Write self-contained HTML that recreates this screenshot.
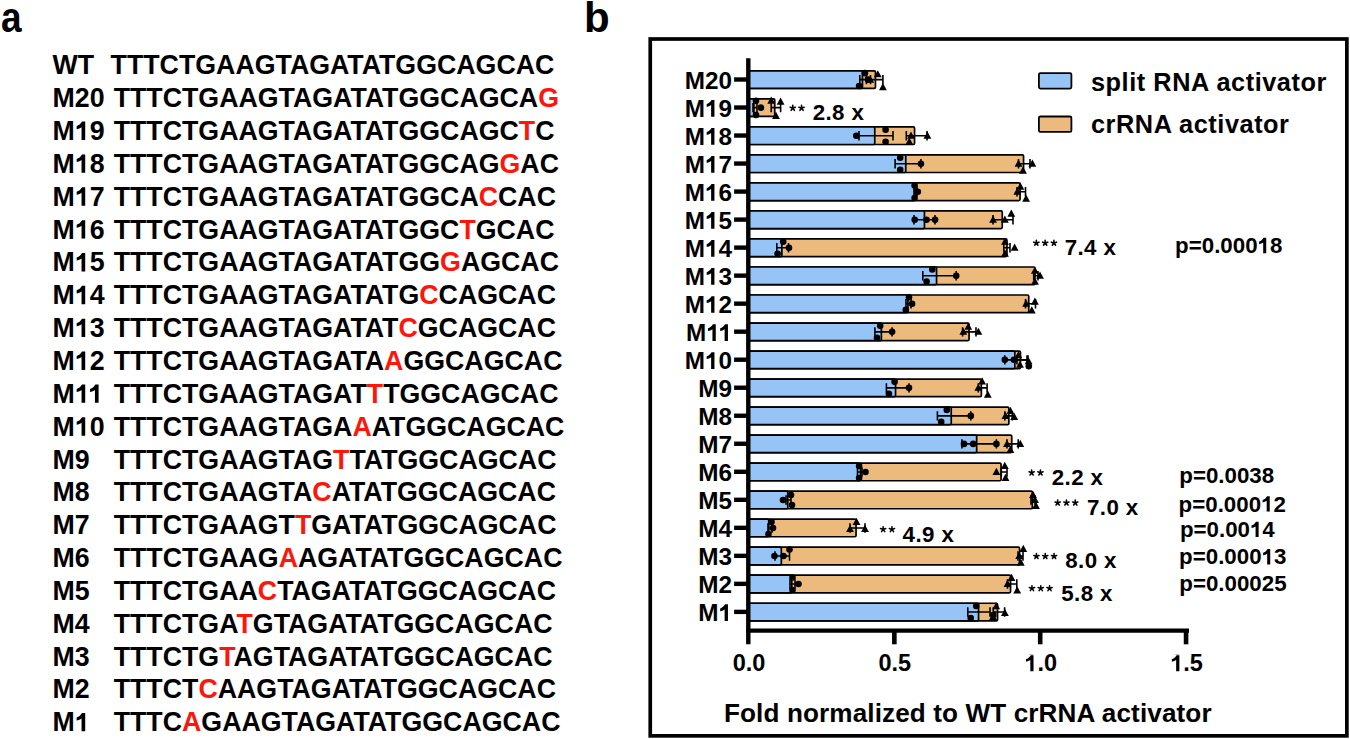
<!DOCTYPE html><html><head><meta charset="utf-8"><style>
html,body{margin:0;padding:0;background:#fff;width:1350px;height:739px;overflow:hidden}
svg{display:block}
text{font-family:"Liberation Sans", sans-serif;font-weight:bold}
</style></head><body>
<svg width="1350" height="739" viewBox="0 0 1350 739">
<rect width="1350" height="739" fill="#fff"/>
<text x="1.32" y="31.5" font-size="43.4" transform="scale(0.853,1)">a</text>
<text x="584" y="31.5" font-size="42">b</text>
<text x="52.5" y="74.30" font-size="26.75">WT</text>
<text x="110.6" y="74.30" font-size="26.75">TTTCTGAAGTAGATATGGCAGCAC</text>
<text x="52.5" y="107.15" font-size="26.75">M20</text>
<text x="113.7" y="107.15" font-size="26.75">TTTCTGAAGTAGATATGGCAGCA<tspan fill="#ff150a">G</tspan></text>
<text x="52.5" y="140.00" font-size="26.75">M19</text>
<text x="113.7" y="140.00" font-size="26.75">TTTCTGAAGTAGATATGGCAGC<tspan fill="#ff150a">T</tspan>C</text>
<text x="52.5" y="172.85" font-size="26.75">M18</text>
<text x="113.7" y="172.85" font-size="26.75">TTTCTGAAGTAGATATGGCAG<tspan fill="#ff150a">G</tspan>AC</text>
<text x="52.5" y="205.70" font-size="26.75">M17</text>
<text x="113.7" y="205.70" font-size="26.75">TTTCTGAAGTAGATATGGCA<tspan fill="#ff150a">C</tspan>CAC</text>
<text x="52.5" y="238.55" font-size="26.75">M16</text>
<text x="113.7" y="238.55" font-size="26.75">TTTCTGAAGTAGATATGGC<tspan fill="#ff150a">T</tspan>GCAC</text>
<text x="52.5" y="271.40" font-size="26.75">M15</text>
<text x="113.7" y="271.40" font-size="26.75">TTTCTGAAGTAGATATGG<tspan fill="#ff150a">G</tspan>AGCAC</text>
<text x="52.5" y="304.25" font-size="26.75">M14</text>
<text x="113.7" y="304.25" font-size="26.75">TTTCTGAAGTAGATATG<tspan fill="#ff150a">C</tspan>CAGCAC</text>
<text x="52.5" y="337.10" font-size="26.75">M13</text>
<text x="113.7" y="337.10" font-size="26.75">TTTCTGAAGTAGATAT<tspan fill="#ff150a">C</tspan>GCAGCAC</text>
<text x="52.5" y="369.95" font-size="26.75">M12</text>
<text x="113.7" y="369.95" font-size="26.75">TTTCTGAAGTAGATA<tspan fill="#ff150a">A</tspan>GGCAGCAC</text>
<text x="52.5" y="402.80" font-size="26.75">M11</text>
<text x="113.7" y="402.80" font-size="26.75">TTTCTGAAGTAGAT<tspan fill="#ff150a">T</tspan>TGGCAGCAC</text>
<text x="52.5" y="435.65" font-size="26.75">M10</text>
<text x="113.7" y="435.65" font-size="26.75">TTTCTGAAGTAGA<tspan fill="#ff150a">A</tspan>ATGGCAGCAC</text>
<text x="52.5" y="468.50" font-size="26.75">M9</text>
<text x="113.7" y="468.50" font-size="26.75">TTTCTGAAGTAG<tspan fill="#ff150a">T</tspan>TATGGCAGCAC</text>
<text x="52.5" y="501.35" font-size="26.75">M8</text>
<text x="113.7" y="501.35" font-size="26.75">TTTCTGAAGTA<tspan fill="#ff150a">C</tspan>ATATGGCAGCAC</text>
<text x="52.5" y="534.20" font-size="26.75">M7</text>
<text x="113.7" y="534.20" font-size="26.75">TTTCTGAAGT<tspan fill="#ff150a">T</tspan>GATATGGCAGCAC</text>
<text x="52.5" y="567.05" font-size="26.75">M6</text>
<text x="113.7" y="567.05" font-size="26.75">TTTCTGAAG<tspan fill="#ff150a">A</tspan>AGATATGGCAGCAC</text>
<text x="52.5" y="599.90" font-size="26.75">M5</text>
<text x="113.7" y="599.90" font-size="26.75">TTTCTGAA<tspan fill="#ff150a">C</tspan>TAGATATGGCAGCAC</text>
<text x="52.5" y="632.75" font-size="26.75">M4</text>
<text x="113.7" y="632.75" font-size="26.75">TTTCTGA<tspan fill="#ff150a">T</tspan>GTAGATATGGCAGCAC</text>
<text x="52.5" y="665.60" font-size="26.75">M3</text>
<text x="113.7" y="665.60" font-size="26.75">TTTCTG<tspan fill="#ff150a">T</tspan>AGTAGATATGGCAGCAC</text>
<text x="52.5" y="698.45" font-size="26.75">M2</text>
<text x="113.7" y="698.45" font-size="26.75">TTTCT<tspan fill="#ff150a">C</tspan>AAGTAGATATGGCAGCAC</text>
<text x="52.5" y="731.30" font-size="26.75">M1</text>
<text x="113.7" y="731.30" font-size="26.75">TTTC<tspan fill="#ff150a">A</tspan>GAAGTAGATATGGCAGCAC</text>
<rect x="650.25" y="39" width="696.6" height="696.85" fill="none" stroke="#000" stroke-width="3.7"/>
<rect x="748.50" y="70.85" width="126.95" height="17.6" rx="1.2" fill="#edba7e" stroke="#000" stroke-width="1.7"/>
<rect x="748.50" y="70.85" width="113.95" height="17.6" rx="1.2" fill="#96c4f7" stroke="#000" stroke-width="1.7"/>
<rect x="748.50" y="98.87" width="26.25" height="17.6" rx="1.2" fill="#edba7e" stroke="#000" stroke-width="1.7"/>
<rect x="748.50" y="98.87" width="5.35" height="17.6" rx="1.2" fill="#96c4f7" stroke="#000" stroke-width="1.7"/>
<rect x="748.50" y="126.89" width="166.05" height="17.6" rx="1.2" fill="#edba7e" stroke="#000" stroke-width="1.7"/>
<rect x="748.50" y="126.89" width="126.25" height="17.6" rx="1.2" fill="#96c4f7" stroke="#000" stroke-width="1.7"/>
<rect x="748.50" y="154.91" width="275.05" height="17.6" rx="1.2" fill="#edba7e" stroke="#000" stroke-width="1.7"/>
<rect x="748.50" y="154.91" width="157.25" height="17.6" rx="1.2" fill="#96c4f7" stroke="#000" stroke-width="1.7"/>
<rect x="748.50" y="182.93" width="271.55" height="17.6" rx="1.2" fill="#edba7e" stroke="#000" stroke-width="1.7"/>
<rect x="748.50" y="182.93" width="166.55" height="17.6" rx="1.2" fill="#96c4f7" stroke="#000" stroke-width="1.7"/>
<rect x="748.50" y="210.95" width="253.75" height="17.6" rx="1.2" fill="#edba7e" stroke="#000" stroke-width="1.7"/>
<rect x="748.50" y="210.95" width="175.95" height="17.6" rx="1.2" fill="#96c4f7" stroke="#000" stroke-width="1.7"/>
<rect x="748.50" y="238.97" width="258.45" height="17.6" rx="1.2" fill="#edba7e" stroke="#000" stroke-width="1.7"/>
<rect x="748.50" y="238.97" width="33.35" height="17.6" rx="1.2" fill="#96c4f7" stroke="#000" stroke-width="1.7"/>
<rect x="748.50" y="266.99" width="286.45" height="17.6" rx="1.2" fill="#edba7e" stroke="#000" stroke-width="1.7"/>
<rect x="748.50" y="266.99" width="188.05" height="17.6" rx="1.2" fill="#96c4f7" stroke="#000" stroke-width="1.7"/>
<rect x="748.50" y="295.01" width="280.25" height="17.6" rx="1.2" fill="#edba7e" stroke="#000" stroke-width="1.7"/>
<rect x="748.50" y="295.01" width="159.45" height="17.6" rx="1.2" fill="#96c4f7" stroke="#000" stroke-width="1.7"/>
<rect x="748.50" y="323.03" width="220.55" height="17.6" rx="1.2" fill="#edba7e" stroke="#000" stroke-width="1.7"/>
<rect x="748.50" y="323.03" width="132.85" height="17.6" rx="1.2" fill="#96c4f7" stroke="#000" stroke-width="1.7"/>
<rect x="748.50" y="351.05" width="271.95" height="17.6" rx="1.2" fill="#edba7e" stroke="#000" stroke-width="1.7"/>
<rect x="748.50" y="351.05" width="266.35" height="17.6" rx="1.2" fill="#96c4f7" stroke="#000" stroke-width="1.7"/>
<rect x="748.50" y="379.07" width="232.85" height="17.6" rx="1.2" fill="#edba7e" stroke="#000" stroke-width="1.7"/>
<rect x="748.50" y="379.07" width="147.05" height="17.6" rx="1.2" fill="#96c4f7" stroke="#000" stroke-width="1.7"/>
<rect x="748.50" y="407.09" width="260.35" height="17.6" rx="1.2" fill="#edba7e" stroke="#000" stroke-width="1.7"/>
<rect x="748.50" y="407.09" width="202.75" height="17.6" rx="1.2" fill="#96c4f7" stroke="#000" stroke-width="1.7"/>
<rect x="748.50" y="435.11" width="263.25" height="17.6" rx="1.2" fill="#edba7e" stroke="#000" stroke-width="1.7"/>
<rect x="748.50" y="435.11" width="228.15" height="17.6" rx="1.2" fill="#96c4f7" stroke="#000" stroke-width="1.7"/>
<rect x="748.50" y="463.13" width="252.55" height="17.6" rx="1.2" fill="#edba7e" stroke="#000" stroke-width="1.7"/>
<rect x="748.50" y="463.13" width="112.05" height="17.6" rx="1.2" fill="#96c4f7" stroke="#000" stroke-width="1.7"/>
<rect x="748.50" y="491.15" width="283.85" height="17.6" rx="1.2" fill="#edba7e" stroke="#000" stroke-width="1.7"/>
<rect x="748.50" y="491.15" width="39.25" height="17.6" rx="1.2" fill="#96c4f7" stroke="#000" stroke-width="1.7"/>
<rect x="748.50" y="519.17" width="107.55" height="17.6" rx="1.2" fill="#edba7e" stroke="#000" stroke-width="1.7"/>
<rect x="748.50" y="519.17" width="20.25" height="17.6" rx="1.2" fill="#96c4f7" stroke="#000" stroke-width="1.7"/>
<rect x="748.50" y="547.19" width="271.05" height="17.6" rx="1.2" fill="#edba7e" stroke="#000" stroke-width="1.7"/>
<rect x="748.50" y="547.19" width="32.85" height="17.6" rx="1.2" fill="#96c4f7" stroke="#000" stroke-width="1.7"/>
<rect x="748.50" y="575.21" width="262.05" height="17.6" rx="1.2" fill="#edba7e" stroke="#000" stroke-width="1.7"/>
<rect x="748.50" y="575.21" width="43.25" height="17.6" rx="1.2" fill="#96c4f7" stroke="#000" stroke-width="1.7"/>
<rect x="748.50" y="603.23" width="249.05" height="17.6" rx="1.2" fill="#edba7e" stroke="#000" stroke-width="1.7"/>
<rect x="748.50" y="603.23" width="230.05" height="17.6" rx="1.2" fill="#96c4f7" stroke="#000" stroke-width="1.7"/>
<path d="M859.80 79.65H866.40M859.80 74.95v9.4M866.40 74.95v9.4" stroke="#000" stroke-width="1.6" fill="none"/>
<circle cx="864.90" cy="73.15" r="3.3"/>
<circle cx="868.00" cy="79.65" r="3.3"/>
<circle cx="859.10" cy="85.95" r="3.3"/>
<path d="M870.50 79.65H882.90M870.50 74.95v9.4M882.90 74.95v9.4" stroke="#000" stroke-width="1.6" fill="none"/>
<path d="M877.80 70.15L881.70 77.35L873.90 77.35Z"/>
<path d="M870.20 75.45L874.10 82.65L866.30 82.65Z"/>
<path d="M882.90 83.05L886.80 90.25L879.00 90.25Z"/>
<path d="M753.00 107.67H757.00M753.00 102.97v9.4M757.00 102.97v9.4" stroke="#000" stroke-width="1.6" fill="none"/>
<circle cx="756.00" cy="100.87" r="3.3"/>
<circle cx="761.00" cy="107.67" r="3.3"/>
<circle cx="756.00" cy="115.07" r="3.3"/>
<path d="M771.20 107.67H780.60M771.20 102.97v9.4M780.60 102.97v9.4" stroke="#000" stroke-width="1.6" fill="none"/>
<path d="M771.20 96.47L775.10 103.67L767.30 103.67Z"/>
<path d="M780.60 97.57L784.50 104.77L776.70 104.77Z"/>
<path d="M776.00 111.77L779.90 118.97L772.10 118.97Z"/>
<path d="M859.00 135.69H893.00M859.00 130.99v9.4M893.00 130.99v9.4" stroke="#000" stroke-width="1.6" fill="none"/>
<circle cx="856.30" cy="135.69" r="3.3"/>
<circle cx="885.60" cy="129.69" r="3.3"/>
<circle cx="885.60" cy="141.69" r="3.3"/>
<path d="M906.30 135.69H927.00M906.30 130.99v9.4M927.00 130.99v9.4" stroke="#000" stroke-width="1.6" fill="none"/>
<path d="M927.40 131.49L931.30 138.69L923.50 138.69Z"/>
<path d="M911.00 131.49L914.90 138.69L907.10 138.69Z"/>
<path d="M909.30 137.49L913.20 144.69L905.40 144.69Z"/>
<path d="M895.10 163.71H920.90M895.10 159.01v9.4M920.90 159.01v9.4" stroke="#000" stroke-width="1.6" fill="none"/>
<circle cx="900.20" cy="157.71" r="3.3"/>
<circle cx="920.90" cy="163.71" r="3.3"/>
<circle cx="900.20" cy="169.71" r="3.3"/>
<path d="M1018.50 163.71H1030.00M1018.50 159.01v9.4M1030.00 159.01v9.4" stroke="#000" stroke-width="1.6" fill="none"/>
<path d="M1018.50 159.51L1022.40 166.71L1014.60 166.71Z"/>
<path d="M1023.00 166.51L1026.90 173.71L1019.10 173.71Z"/>
<path d="M1032.40 159.51L1036.30 166.71L1028.50 166.71Z"/>
<path d="M914.00 191.73H917.00M914.00 187.03v9.4M917.00 187.03v9.4" stroke="#000" stroke-width="1.6" fill="none"/>
<circle cx="914.60" cy="185.43" r="3.3"/>
<circle cx="917.80" cy="191.73" r="3.3"/>
<circle cx="914.60" cy="198.03" r="3.3"/>
<path d="M1017.00 191.73H1025.50M1017.00 187.03v9.4M1025.50 187.03v9.4" stroke="#000" stroke-width="1.6" fill="none"/>
<path d="M1017.30 187.53L1021.20 194.73L1013.40 194.73Z"/>
<path d="M1020.40 182.53L1024.30 189.73L1016.50 189.73Z"/>
<path d="M1026.10 194.53L1030.00 201.73L1022.20 201.73Z"/>
<path d="M914.00 219.75H935.00M914.00 215.05v9.4M935.00 215.05v9.4" stroke="#000" stroke-width="1.6" fill="none"/>
<circle cx="914.70" cy="219.75" r="3.3"/>
<circle cx="926.50" cy="219.75" r="3.3"/>
<circle cx="935.10" cy="219.75" r="3.3"/>
<path d="M993.00 219.75H1013.00M993.00 215.05v9.4M1013.00 215.05v9.4" stroke="#000" stroke-width="1.6" fill="none"/>
<path d="M993.10 215.55L997.00 222.75L989.20 222.75Z"/>
<path d="M1004.90 215.55L1008.80 222.75L1001.00 222.75Z"/>
<path d="M1011.30 209.55L1015.20 216.75L1007.40 216.75Z"/>
<path d="M776.80 247.77H788.50M776.80 243.07v9.4M788.50 243.07v9.4" stroke="#000" stroke-width="1.6" fill="none"/>
<circle cx="783.20" cy="241.77" r="3.3"/>
<circle cx="777.60" cy="253.77" r="3.3"/>
<circle cx="789.00" cy="247.77" r="3.3"/>
<path d="M1003.80 247.77H1010.00M1003.80 243.07v9.4M1010.00 243.07v9.4" stroke="#000" stroke-width="1.6" fill="none"/>
<path d="M1005.00 237.57L1008.90 244.77L1001.10 244.77Z"/>
<path d="M1005.00 249.57L1008.90 256.77L1001.10 256.77Z"/>
<path d="M1014.60 243.57L1018.50 250.77L1010.70 250.77Z"/>
<path d="M922.80 275.79H956.20M922.80 271.09v9.4M956.20 271.09v9.4" stroke="#000" stroke-width="1.6" fill="none"/>
<circle cx="932.30" cy="269.49" r="3.3"/>
<circle cx="926.60" cy="281.49" r="3.3"/>
<circle cx="956.20" cy="275.79" r="3.3"/>
<path d="M1033.70 275.79H1038.00M1033.70 271.09v9.4M1038.00 271.09v9.4" stroke="#000" stroke-width="1.6" fill="none"/>
<path d="M1034.90 266.59L1038.80 273.79L1031.00 273.79Z"/>
<path d="M1035.00 277.59L1038.90 284.79L1031.10 284.79Z"/>
<path d="M1040.00 271.59L1043.90 278.79L1036.10 278.79Z"/>
<path d="M906.00 303.81H911.00M906.00 299.11v9.4M911.00 299.11v9.4" stroke="#000" stroke-width="1.6" fill="none"/>
<circle cx="909.00" cy="297.31" r="3.3"/>
<circle cx="905.80" cy="309.81" r="3.3"/>
<circle cx="912.10" cy="303.81" r="3.3"/>
<path d="M1025.50 303.81H1035.50M1025.50 299.11v9.4M1035.50 299.11v9.4" stroke="#000" stroke-width="1.6" fill="none"/>
<path d="M1026.10 299.61L1030.00 306.81L1022.20 306.81Z"/>
<path d="M1034.90 297.61L1038.80 304.81L1031.00 304.81Z"/>
<path d="M1031.80 306.31L1035.70 313.51L1027.90 313.51Z"/>
<path d="M874.90 331.83H892.10M874.90 327.13v9.4M892.10 327.13v9.4" stroke="#000" stroke-width="1.6" fill="none"/>
<circle cx="880.20" cy="325.83" r="3.3"/>
<circle cx="877.00" cy="337.83" r="3.3"/>
<circle cx="892.10" cy="331.83" r="3.3"/>
<path d="M962.60 331.83H976.00M962.60 327.13v9.4M976.00 327.13v9.4" stroke="#000" stroke-width="1.6" fill="none"/>
<path d="M968.30 322.63L972.20 329.83L964.40 329.83Z"/>
<path d="M963.30 327.63L967.20 334.83L959.40 334.83Z"/>
<path d="M978.40 327.63L982.30 334.83L974.50 334.83Z"/>
<path d="M1004.80 359.85H1028.00M1004.80 355.15v9.4M1028.00 355.15v9.4" stroke="#000" stroke-width="1.6" fill="none"/>
<circle cx="1004.80" cy="359.85" r="3.3"/>
<circle cx="1013.90" cy="359.85" r="3.3"/>
<circle cx="1028.80" cy="366.25" r="3.3"/>
<path d="M1017.00 359.85H1027.00M1017.00 355.15v9.4M1027.00 355.15v9.4" stroke="#000" stroke-width="1.6" fill="none"/>
<path d="M1018.40 351.15L1022.30 358.35L1014.50 358.35Z"/>
<path d="M1020.00 360.65L1023.90 367.85L1016.10 367.85Z"/>
<path d="M1028.60 357.15L1032.50 364.35L1024.70 364.35Z"/>
<path d="M886.40 387.87H909.00M886.40 383.17v9.4M909.00 383.17v9.4" stroke="#000" stroke-width="1.6" fill="none"/>
<circle cx="894.60" cy="381.87" r="3.3"/>
<circle cx="888.90" cy="393.87" r="3.3"/>
<circle cx="909.00" cy="387.87" r="3.3"/>
<path d="M978.30 387.87H987.10M978.30 383.17v9.4M987.10 383.17v9.4" stroke="#000" stroke-width="1.6" fill="none"/>
<path d="M982.10 377.27L986.00 384.47L978.20 384.47Z"/>
<path d="M978.30 383.67L982.20 390.87L974.40 390.87Z"/>
<path d="M987.80 390.47L991.70 397.67L983.90 397.67Z"/>
<path d="M937.40 415.89H970.80M937.40 411.19v9.4M970.80 411.19v9.4" stroke="#000" stroke-width="1.6" fill="none"/>
<circle cx="946.80" cy="409.89" r="3.3"/>
<circle cx="941.20" cy="421.89" r="3.3"/>
<circle cx="970.80" cy="415.89" r="3.3"/>
<path d="M1004.80 415.89H1012.30M1004.80 411.19v9.4M1012.30 411.19v9.4" stroke="#000" stroke-width="1.6" fill="none"/>
<path d="M1005.40 411.69L1009.30 418.89L1001.50 418.89Z"/>
<path d="M1010.40 406.69L1014.30 413.89L1006.50 413.89Z"/>
<path d="M1014.20 412.69L1018.10 419.89L1010.30 419.89Z"/>
<path d="M961.90 443.91H996.40M961.90 439.21v9.4M996.40 439.21v9.4" stroke="#000" stroke-width="1.6" fill="none"/>
<circle cx="964.00" cy="443.91" r="3.3"/>
<circle cx="973.20" cy="443.91" r="3.3"/>
<circle cx="996.40" cy="443.91" r="3.3"/>
<path d="M1007.00 443.91H1018.20M1007.00 439.21v9.4M1018.20 439.21v9.4" stroke="#000" stroke-width="1.6" fill="none"/>
<path d="M1007.00 439.71L1010.90 446.91L1003.10 446.91Z"/>
<path d="M1010.40 445.71L1014.30 452.91L1006.50 452.91Z"/>
<path d="M1020.30 439.71L1024.20 446.91L1016.40 446.91Z"/>
<path d="M857.50 471.93H862.00M857.50 467.23v9.4M862.00 467.23v9.4" stroke="#000" stroke-width="1.6" fill="none"/>
<circle cx="859.10" cy="465.93" r="3.3"/>
<circle cx="859.10" cy="477.93" r="3.3"/>
<circle cx="865.50" cy="471.93" r="3.3"/>
<path d="M1001.30 471.93H1007.00M1001.30 467.23v9.4M1007.00 467.23v9.4" stroke="#000" stroke-width="1.6" fill="none"/>
<path d="M1004.80 461.73L1008.70 468.93L1000.90 468.93Z"/>
<path d="M996.40 467.73L1000.30 474.93L992.50 474.93Z"/>
<path d="M1005.50 473.73L1009.40 480.93L1001.60 480.93Z"/>
<path d="M786.00 499.95H791.00M786.00 495.25v9.4M791.00 495.25v9.4" stroke="#000" stroke-width="1.6" fill="none"/>
<circle cx="783.00" cy="499.95" r="3.3"/>
<circle cx="791.00" cy="494.95" r="3.3"/>
<circle cx="792.00" cy="504.95" r="3.3"/>
<path d="M1031.00 499.95H1035.00M1031.00 495.25v9.4M1035.00 495.25v9.4" stroke="#000" stroke-width="1.6" fill="none"/>
<path d="M1033.00 490.75L1036.90 497.95L1029.10 497.95Z"/>
<path d="M1035.00 495.75L1038.90 502.95L1031.10 502.95Z"/>
<path d="M1036.00 501.75L1039.90 508.95L1032.10 508.95Z"/>
<path d="M768.00 527.97H772.00M768.00 523.27v9.4M772.00 523.27v9.4" stroke="#000" stroke-width="1.6" fill="none"/>
<circle cx="768.50" cy="533.97" r="3.3"/>
<circle cx="771.50" cy="521.97" r="3.3"/>
<circle cx="773.00" cy="527.97" r="3.3"/>
<path d="M850.00 527.97H865.00M850.00 523.27v9.4M865.00 523.27v9.4" stroke="#000" stroke-width="1.6" fill="none"/>
<path d="M856.50 517.77L860.40 524.97L852.60 524.97Z"/>
<path d="M850.00 524.77L853.90 531.97L846.10 531.97Z"/>
<path d="M865.00 524.77L868.90 531.97L861.10 531.97Z"/>
<path d="M775.00 555.99H789.50M775.00 551.29v9.4M789.50 551.29v9.4" stroke="#000" stroke-width="1.6" fill="none"/>
<circle cx="774.50" cy="555.99" r="3.3"/>
<circle cx="783.50" cy="555.99" r="3.3"/>
<circle cx="789.50" cy="549.49" r="3.3"/>
<path d="M1018.00 555.99H1023.00M1018.00 551.29v9.4M1023.00 551.29v9.4" stroke="#000" stroke-width="1.6" fill="none"/>
<path d="M1023.30 544.79L1027.20 551.99L1019.40 551.99Z"/>
<path d="M1019.20 551.79L1023.10 558.99L1015.30 558.99Z"/>
<path d="M1020.80 558.59L1024.70 565.79L1016.90 565.79Z"/>
<path d="M790.00 584.01H795.00M790.00 579.31v9.4M795.00 579.31v9.4" stroke="#000" stroke-width="1.6" fill="none"/>
<circle cx="792.50" cy="577.51" r="3.3"/>
<circle cx="792.50" cy="590.01" r="3.3"/>
<circle cx="798.50" cy="584.01" r="3.3"/>
<path d="M1007.50 584.01H1016.80M1007.50 579.31v9.4M1016.80 579.31v9.4" stroke="#000" stroke-width="1.6" fill="none"/>
<path d="M1011.50 573.81L1015.40 581.01L1007.60 581.01Z"/>
<path d="M1007.50 579.81L1011.40 587.01L1003.60 587.01Z"/>
<path d="M1017.20 586.31L1021.10 593.51L1013.30 593.51Z"/>
<path d="M967.80 612.03H990.00M967.80 607.33v9.4M990.00 607.33v9.4" stroke="#000" stroke-width="1.6" fill="none"/>
<circle cx="976.20" cy="606.03" r="3.3"/>
<circle cx="970.70" cy="618.03" r="3.3"/>
<circle cx="993.30" cy="615.03" r="3.3"/>
<path d="M993.30 612.03H1004.60M993.30 607.33v9.4M1004.60 607.33v9.4" stroke="#000" stroke-width="1.6" fill="none"/>
<path d="M996.20 602.13L1000.10 609.33L992.30 609.33Z"/>
<path d="M1004.90 608.83L1008.80 616.03L1001.00 616.03Z"/>
<path d="M993.00 612.83L996.90 620.03L989.10 620.03Z"/>
<line x1="748.3" y1="58.2" x2="748.3" y2="644.3" stroke="#000" stroke-width="4.4"/>
<line x1="746.1" y1="630.6" x2="1189" y2="630.6" stroke="#000" stroke-width="4.4"/>
<line x1="894.35" y1="630" x2="894.35" y2="644.3" stroke="#000" stroke-width="4.6"/>
<line x1="1040.20" y1="630" x2="1040.20" y2="644.3" stroke="#000" stroke-width="4.6"/>
<line x1="1186.05" y1="630" x2="1186.05" y2="644.3" stroke="#000" stroke-width="4.6"/>
<line x1="734.1" y1="611.88" x2="748" y2="611.88" stroke="#000" stroke-width="4.4"/>
<text x="732" y="621.08" font-size="24.3" text-anchor="end">M1</text>
<line x1="734.1" y1="583.86" x2="748" y2="583.86" stroke="#000" stroke-width="4.4"/>
<text x="732" y="593.06" font-size="24.3" text-anchor="end">M2</text>
<line x1="734.1" y1="555.84" x2="748" y2="555.84" stroke="#000" stroke-width="4.4"/>
<text x="732" y="565.04" font-size="24.3" text-anchor="end">M3</text>
<line x1="734.1" y1="527.82" x2="748" y2="527.82" stroke="#000" stroke-width="4.4"/>
<text x="732" y="537.02" font-size="24.3" text-anchor="end">M4</text>
<line x1="734.1" y1="499.80" x2="748" y2="499.80" stroke="#000" stroke-width="4.4"/>
<text x="732" y="509.00" font-size="24.3" text-anchor="end">M5</text>
<line x1="734.1" y1="471.78" x2="748" y2="471.78" stroke="#000" stroke-width="4.4"/>
<text x="732" y="480.98" font-size="24.3" text-anchor="end">M6</text>
<line x1="734.1" y1="443.76" x2="748" y2="443.76" stroke="#000" stroke-width="4.4"/>
<text x="732" y="452.96" font-size="24.3" text-anchor="end">M7</text>
<line x1="734.1" y1="415.74" x2="748" y2="415.74" stroke="#000" stroke-width="4.4"/>
<text x="732" y="424.94" font-size="24.3" text-anchor="end">M8</text>
<line x1="734.1" y1="387.72" x2="748" y2="387.72" stroke="#000" stroke-width="4.4"/>
<text x="732" y="396.92" font-size="24.3" text-anchor="end">M9</text>
<line x1="734.1" y1="359.70" x2="748" y2="359.70" stroke="#000" stroke-width="4.4"/>
<text x="732" y="368.90" font-size="24.3" text-anchor="end">M10</text>
<line x1="734.1" y1="331.68" x2="748" y2="331.68" stroke="#000" stroke-width="4.4"/>
<text x="732" y="340.88" font-size="24.3" text-anchor="end">M11</text>
<line x1="734.1" y1="303.66" x2="748" y2="303.66" stroke="#000" stroke-width="4.4"/>
<text x="732" y="312.86" font-size="24.3" text-anchor="end">M12</text>
<line x1="734.1" y1="275.64" x2="748" y2="275.64" stroke="#000" stroke-width="4.4"/>
<text x="732" y="284.84" font-size="24.3" text-anchor="end">M13</text>
<line x1="734.1" y1="247.62" x2="748" y2="247.62" stroke="#000" stroke-width="4.4"/>
<text x="732" y="256.82" font-size="24.3" text-anchor="end">M14</text>
<line x1="734.1" y1="219.60" x2="748" y2="219.60" stroke="#000" stroke-width="4.4"/>
<text x="732" y="228.80" font-size="24.3" text-anchor="end">M15</text>
<line x1="734.1" y1="191.58" x2="748" y2="191.58" stroke="#000" stroke-width="4.4"/>
<text x="732" y="200.78" font-size="24.3" text-anchor="end">M16</text>
<line x1="734.1" y1="163.56" x2="748" y2="163.56" stroke="#000" stroke-width="4.4"/>
<text x="732" y="172.76" font-size="24.3" text-anchor="end">M17</text>
<line x1="734.1" y1="135.54" x2="748" y2="135.54" stroke="#000" stroke-width="4.4"/>
<text x="732" y="144.74" font-size="24.3" text-anchor="end">M18</text>
<line x1="734.1" y1="107.52" x2="748" y2="107.52" stroke="#000" stroke-width="4.4"/>
<text x="732" y="116.72" font-size="24.3" text-anchor="end">M19</text>
<line x1="734.1" y1="79.50" x2="748" y2="79.50" stroke="#000" stroke-width="4.4"/>
<text x="732" y="88.70" font-size="24.3" text-anchor="end">M20</text>
<text x="749.00" y="671.3" font-size="23.5" text-anchor="middle">0.0</text>
<text x="894.85" y="671.3" font-size="23.5" text-anchor="middle">0.5</text>
<text x="1040.70" y="671.3" font-size="23.5" text-anchor="middle">1.0</text>
<text x="1186.55" y="671.3" font-size="23.5" text-anchor="middle">1.5</text>
<text x="724" y="721.7" font-size="26.1" letter-spacing="0.12">Fold normalized to WT crRNA activator</text>
<rect x="1038.9" y="73.2" width="32.5" height="15.4" rx="1.5" fill="#96c4f7" stroke="#000" stroke-width="1.8"/>
<rect x="1038.9" y="116.5" width="32.5" height="15.4" rx="1.5" fill="#edba7e" stroke="#000" stroke-width="1.8"/>
<text x="1091" y="90.5" font-size="25.3" letter-spacing="0.55">split RNA activator</text>
<text x="1091" y="133.4" font-size="25.3" letter-spacing="0.55">crRNA activator</text>
<path d="M792.75 108.10L792.75 105.35M792.75 108.10L795.37 107.25M792.75 108.10L794.37 110.32M792.75 108.10L791.13 110.32M792.75 108.10L790.13 107.25" stroke="#000" stroke-width="1.55" stroke-linecap="round" fill="none"/>
<path d="M801.55 108.10L801.55 105.35M801.55 108.10L804.17 107.25M801.55 108.10L803.17 110.32M801.55 108.10L799.93 110.32M801.55 108.10L798.93 107.25" stroke="#000" stroke-width="1.55" stroke-linecap="round" fill="none"/>
<text x="812.7" y="120.2" font-size="22.3" letter-spacing="0.4">2.8 x</text>
<path d="M1036.35 243.00L1036.35 240.25M1036.35 243.00L1038.97 242.15M1036.35 243.00L1037.97 245.22M1036.35 243.00L1034.73 245.22M1036.35 243.00L1033.73 242.15" stroke="#000" stroke-width="1.55" stroke-linecap="round" fill="none"/>
<path d="M1045.15 243.00L1045.15 240.25M1045.15 243.00L1047.77 242.15M1045.15 243.00L1046.77 245.22M1045.15 243.00L1043.53 245.22M1045.15 243.00L1042.53 242.15" stroke="#000" stroke-width="1.55" stroke-linecap="round" fill="none"/>
<path d="M1053.95 243.00L1053.95 240.25M1053.95 243.00L1056.57 242.15M1053.95 243.00L1055.57 245.22M1053.95 243.00L1052.33 245.22M1053.95 243.00L1051.33 242.15" stroke="#000" stroke-width="1.55" stroke-linecap="round" fill="none"/>
<text x="1064.7" y="255.1" font-size="22.3" letter-spacing="0.4">7.4 x</text>
<path d="M1031.65 472.70L1031.65 469.95M1031.65 472.70L1034.27 471.85M1031.65 472.70L1033.27 474.92M1031.65 472.70L1030.03 474.92M1031.65 472.70L1029.03 471.85" stroke="#000" stroke-width="1.55" stroke-linecap="round" fill="none"/>
<path d="M1040.45 472.70L1040.45 469.95M1040.45 472.70L1043.07 471.85M1040.45 472.70L1042.07 474.92M1040.45 472.70L1038.83 474.92M1040.45 472.70L1037.83 471.85" stroke="#000" stroke-width="1.55" stroke-linecap="round" fill="none"/>
<text x="1051.8" y="484.8" font-size="22.3" letter-spacing="0.4">2.2 x</text>
<path d="M1057.65 502.80L1057.65 500.05M1057.65 502.80L1060.27 501.95M1057.65 502.80L1059.27 505.02M1057.65 502.80L1056.03 505.02M1057.65 502.80L1055.03 501.95" stroke="#000" stroke-width="1.55" stroke-linecap="round" fill="none"/>
<path d="M1066.45 502.80L1066.45 500.05M1066.45 502.80L1069.07 501.95M1066.45 502.80L1068.07 505.02M1066.45 502.80L1064.83 505.02M1066.45 502.80L1063.83 501.95" stroke="#000" stroke-width="1.55" stroke-linecap="round" fill="none"/>
<path d="M1075.25 502.80L1075.25 500.05M1075.25 502.80L1077.87 501.95M1075.25 502.80L1076.87 505.02M1075.25 502.80L1073.63 505.02M1075.25 502.80L1072.63 501.95" stroke="#000" stroke-width="1.55" stroke-linecap="round" fill="none"/>
<text x="1087.0" y="514.9" font-size="22.3" letter-spacing="0.4">7.0 x</text>
<path d="M883.15 529.40L883.15 526.65M883.15 529.40L885.77 528.55M883.15 529.40L884.77 531.62M883.15 529.40L881.53 531.62M883.15 529.40L880.53 528.55" stroke="#000" stroke-width="1.55" stroke-linecap="round" fill="none"/>
<path d="M891.95 529.40L891.95 526.65M891.95 529.40L894.57 528.55M891.95 529.40L893.57 531.62M891.95 529.40L890.33 531.62M891.95 529.40L889.33 528.55" stroke="#000" stroke-width="1.55" stroke-linecap="round" fill="none"/>
<text x="902.6" y="541.5" font-size="22.3" letter-spacing="0.4">4.9 x</text>
<path d="M1036.45 556.30L1036.45 553.55M1036.45 556.30L1039.07 555.45M1036.45 556.30L1038.07 558.52M1036.45 556.30L1034.83 558.52M1036.45 556.30L1033.83 555.45" stroke="#000" stroke-width="1.55" stroke-linecap="round" fill="none"/>
<path d="M1045.25 556.30L1045.25 553.55M1045.25 556.30L1047.87 555.45M1045.25 556.30L1046.87 558.52M1045.25 556.30L1043.63 558.52M1045.25 556.30L1042.63 555.45" stroke="#000" stroke-width="1.55" stroke-linecap="round" fill="none"/>
<path d="M1054.05 556.30L1054.05 553.55M1054.05 556.30L1056.67 555.45M1054.05 556.30L1055.67 558.52M1054.05 556.30L1052.43 558.52M1054.05 556.30L1051.43 555.45" stroke="#000" stroke-width="1.55" stroke-linecap="round" fill="none"/>
<text x="1065.3" y="568.4" font-size="22.3" letter-spacing="0.4">8.0 x</text>
<path d="M1031.95 588.40L1031.95 585.65M1031.95 588.40L1034.57 587.55M1031.95 588.40L1033.57 590.62M1031.95 588.40L1030.33 590.62M1031.95 588.40L1029.33 587.55" stroke="#000" stroke-width="1.55" stroke-linecap="round" fill="none"/>
<path d="M1040.75 588.40L1040.75 585.65M1040.75 588.40L1043.37 587.55M1040.75 588.40L1042.37 590.62M1040.75 588.40L1039.13 590.62M1040.75 588.40L1038.13 587.55" stroke="#000" stroke-width="1.55" stroke-linecap="round" fill="none"/>
<path d="M1049.55 588.40L1049.55 585.65M1049.55 588.40L1052.17 587.55M1049.55 588.40L1051.17 590.62M1049.55 588.40L1047.93 590.62M1049.55 588.40L1046.93 587.55" stroke="#000" stroke-width="1.55" stroke-linecap="round" fill="none"/>
<text x="1061.3" y="600.5" font-size="22.3" letter-spacing="0.4">5.8 x</text>
<text x="1175.1" y="253.2" font-size="22.3">p=0.00018</text>
<text x="1179.3" y="482.6" font-size="22.3">p=0.0038</text>
<text x="1178.6" y="511.5" font-size="22.3">p=0.00012</text>
<text x="1179.9" y="537.1" font-size="22.3">p=0.0014</text>
<text x="1179.1" y="564.4" font-size="22.3">p=0.00013</text>
<text x="1179.3" y="591.4" font-size="22.3">p=0.00025</text>
<rect x="75.32" y="120.61" width="14.45" height="19.93" fill="#fff"/>
<path transform="translate(74.78 140.00) scale(26.750)" d="M0.39 0L0.253 0L0.253 -0.48C0.2 -0.44 0.14 -0.418 0.071 -0.405L0.071 -0.52C0.15 -0.545 0.22 -0.6 0.27 -0.688L0.39 -0.688Z"/>
<rect x="75.32" y="153.46" width="14.45" height="19.93" fill="#fff"/>
<path transform="translate(74.78 172.85) scale(26.750)" d="M0.39 0L0.253 0L0.253 -0.48C0.2 -0.44 0.14 -0.418 0.071 -0.405L0.071 -0.52C0.15 -0.545 0.22 -0.6 0.27 -0.688L0.39 -0.688Z"/>
<rect x="75.32" y="186.31" width="14.45" height="19.93" fill="#fff"/>
<path transform="translate(74.78 205.70) scale(26.750)" d="M0.39 0L0.253 0L0.253 -0.48C0.2 -0.44 0.14 -0.418 0.071 -0.405L0.071 -0.52C0.15 -0.545 0.22 -0.6 0.27 -0.688L0.39 -0.688Z"/>
<rect x="75.32" y="219.16" width="14.45" height="19.93" fill="#fff"/>
<path transform="translate(74.78 238.55) scale(26.750)" d="M0.39 0L0.253 0L0.253 -0.48C0.2 -0.44 0.14 -0.418 0.071 -0.405L0.071 -0.52C0.15 -0.545 0.22 -0.6 0.27 -0.688L0.39 -0.688Z"/>
<rect x="75.32" y="252.01" width="14.45" height="19.93" fill="#fff"/>
<path transform="translate(74.78 271.40) scale(26.750)" d="M0.39 0L0.253 0L0.253 -0.48C0.2 -0.44 0.14 -0.418 0.071 -0.405L0.071 -0.52C0.15 -0.545 0.22 -0.6 0.27 -0.688L0.39 -0.688Z"/>
<rect x="75.32" y="284.86" width="14.45" height="19.93" fill="#fff"/>
<path transform="translate(74.78 304.25) scale(26.750)" d="M0.39 0L0.253 0L0.253 -0.48C0.2 -0.44 0.14 -0.418 0.071 -0.405L0.071 -0.52C0.15 -0.545 0.22 -0.6 0.27 -0.688L0.39 -0.688Z"/>
<rect x="75.32" y="317.71" width="14.45" height="19.93" fill="#fff"/>
<path transform="translate(74.78 337.10) scale(26.750)" d="M0.39 0L0.253 0L0.253 -0.48C0.2 -0.44 0.14 -0.418 0.071 -0.405L0.071 -0.52C0.15 -0.545 0.22 -0.6 0.27 -0.688L0.39 -0.688Z"/>
<rect x="75.32" y="350.56" width="14.45" height="19.93" fill="#fff"/>
<path transform="translate(74.78 369.95) scale(26.750)" d="M0.39 0L0.253 0L0.253 -0.48C0.2 -0.44 0.14 -0.418 0.071 -0.405L0.071 -0.52C0.15 -0.545 0.22 -0.6 0.27 -0.688L0.39 -0.688Z"/>
<rect x="75.32" y="383.41" width="14.45" height="19.93" fill="#fff"/>
<path transform="translate(74.78 402.80) scale(26.750)" d="M0.39 0L0.253 0L0.253 -0.48C0.2 -0.44 0.14 -0.418 0.071 -0.405L0.071 -0.52C0.15 -0.545 0.22 -0.6 0.27 -0.688L0.39 -0.688Z"/>
<rect x="88.71" y="383.41" width="15.51" height="19.93" fill="#fff"/>
<path transform="translate(88.17 402.80) scale(26.750)" d="M0.39 0L0.253 0L0.253 -0.48C0.2 -0.44 0.14 -0.418 0.071 -0.405L0.071 -0.52C0.15 -0.545 0.22 -0.6 0.27 -0.688L0.39 -0.688Z"/>
<rect x="75.32" y="416.26" width="14.45" height="19.93" fill="#fff"/>
<path transform="translate(74.78 435.65) scale(26.750)" d="M0.39 0L0.253 0L0.253 -0.48C0.2 -0.44 0.14 -0.418 0.071 -0.405L0.071 -0.52C0.15 -0.545 0.22 -0.6 0.27 -0.688L0.39 -0.688Z"/>
<rect x="75.32" y="711.91" width="15.51" height="19.93" fill="#fff"/>
<path transform="translate(74.78 731.30) scale(26.750)" d="M0.39 0L0.253 0L0.253 -0.48C0.2 -0.44 0.14 -0.418 0.071 -0.405L0.071 -0.52C0.15 -0.545 0.22 -0.6 0.27 -0.688L0.39 -0.688Z"/>
<rect x="718.95" y="603.46" width="14.09" height="18.10" fill="#fff"/>
<path transform="translate(718.47 621.08) scale(24.300)" d="M0.39 0L0.253 0L0.253 -0.48C0.2 -0.44 0.14 -0.418 0.071 -0.405L0.071 -0.52C0.15 -0.545 0.22 -0.6 0.27 -0.688L0.39 -0.688Z"/>
<rect x="705.45" y="351.28" width="13.12" height="18.10" fill="#fff"/>
<path transform="translate(704.97 368.90) scale(24.300)" d="M0.39 0L0.253 0L0.253 -0.48C0.2 -0.44 0.14 -0.418 0.071 -0.405L0.071 -0.52C0.15 -0.545 0.22 -0.6 0.27 -0.688L0.39 -0.688Z"/>
<rect x="706.78" y="323.26" width="13.12" height="18.10" fill="#fff"/>
<path transform="translate(706.30 340.88) scale(24.300)" d="M0.39 0L0.253 0L0.253 -0.48C0.2 -0.44 0.14 -0.418 0.071 -0.405L0.071 -0.52C0.15 -0.545 0.22 -0.6 0.27 -0.688L0.39 -0.688Z"/>
<rect x="718.95" y="323.26" width="14.09" height="18.10" fill="#fff"/>
<path transform="translate(718.47 340.88) scale(24.300)" d="M0.39 0L0.253 0L0.253 -0.48C0.2 -0.44 0.14 -0.418 0.071 -0.405L0.071 -0.52C0.15 -0.545 0.22 -0.6 0.27 -0.688L0.39 -0.688Z"/>
<rect x="705.45" y="295.24" width="13.12" height="18.10" fill="#fff"/>
<path transform="translate(704.97 312.86) scale(24.300)" d="M0.39 0L0.253 0L0.253 -0.48C0.2 -0.44 0.14 -0.418 0.071 -0.405L0.071 -0.52C0.15 -0.545 0.22 -0.6 0.27 -0.688L0.39 -0.688Z"/>
<rect x="705.45" y="267.22" width="13.12" height="18.10" fill="#fff"/>
<path transform="translate(704.97 284.84) scale(24.300)" d="M0.39 0L0.253 0L0.253 -0.48C0.2 -0.44 0.14 -0.418 0.071 -0.405L0.071 -0.52C0.15 -0.545 0.22 -0.6 0.27 -0.688L0.39 -0.688Z"/>
<rect x="705.45" y="239.20" width="13.12" height="18.10" fill="#fff"/>
<path transform="translate(704.97 256.82) scale(24.300)" d="M0.39 0L0.253 0L0.253 -0.48C0.2 -0.44 0.14 -0.418 0.071 -0.405L0.071 -0.52C0.15 -0.545 0.22 -0.6 0.27 -0.688L0.39 -0.688Z"/>
<rect x="705.45" y="211.18" width="13.12" height="18.10" fill="#fff"/>
<path transform="translate(704.97 228.80) scale(24.300)" d="M0.39 0L0.253 0L0.253 -0.48C0.2 -0.44 0.14 -0.418 0.071 -0.405L0.071 -0.52C0.15 -0.545 0.22 -0.6 0.27 -0.688L0.39 -0.688Z"/>
<rect x="705.45" y="183.16" width="13.12" height="18.10" fill="#fff"/>
<path transform="translate(704.97 200.78) scale(24.300)" d="M0.39 0L0.253 0L0.253 -0.48C0.2 -0.44 0.14 -0.418 0.071 -0.405L0.071 -0.52C0.15 -0.545 0.22 -0.6 0.27 -0.688L0.39 -0.688Z"/>
<rect x="705.45" y="155.14" width="13.12" height="18.10" fill="#fff"/>
<path transform="translate(704.97 172.76) scale(24.300)" d="M0.39 0L0.253 0L0.253 -0.48C0.2 -0.44 0.14 -0.418 0.071 -0.405L0.071 -0.52C0.15 -0.545 0.22 -0.6 0.27 -0.688L0.39 -0.688Z"/>
<rect x="705.45" y="127.12" width="13.12" height="18.10" fill="#fff"/>
<path transform="translate(704.97 144.74) scale(24.300)" d="M0.39 0L0.253 0L0.253 -0.48C0.2 -0.44 0.14 -0.418 0.071 -0.405L0.071 -0.52C0.15 -0.545 0.22 -0.6 0.27 -0.688L0.39 -0.688Z"/>
<rect x="705.45" y="99.10" width="13.12" height="18.10" fill="#fff"/>
<path transform="translate(704.97 116.72) scale(24.300)" d="M0.39 0L0.253 0L0.253 -0.48C0.2 -0.44 0.14 -0.418 0.071 -0.405L0.071 -0.52C0.15 -0.545 0.22 -0.6 0.27 -0.688L0.39 -0.688Z"/>
<rect x="1024.83" y="654.26" width="12.69" height="17.51" fill="#fff"/>
<path transform="translate(1024.36 671.30) scale(23.500)" d="M0.39 0L0.253 0L0.253 -0.48C0.2 -0.44 0.14 -0.418 0.071 -0.405L0.071 -0.52C0.15 -0.545 0.22 -0.6 0.27 -0.688L0.39 -0.688Z"/>
<rect x="1170.68" y="654.26" width="12.69" height="17.51" fill="#fff"/>
<path transform="translate(1170.21 671.30) scale(23.500)" d="M0.39 0L0.253 0L0.253 -0.48C0.2 -0.44 0.14 -0.418 0.071 -0.405L0.071 -0.52C0.15 -0.545 0.22 -0.6 0.27 -0.688L0.39 -0.688Z"/>
<rect x="1257.98" y="237.03" width="12.04" height="16.61" fill="#fff"/>
<path transform="translate(1257.54 253.20) scale(22.300)" d="M0.39 0L0.253 0L0.253 -0.48C0.2 -0.44 0.14 -0.418 0.071 -0.405L0.071 -0.52C0.15 -0.545 0.22 -0.6 0.27 -0.688L0.39 -0.688Z"/>
<rect x="1261.48" y="495.33" width="12.04" height="16.61" fill="#fff"/>
<path transform="translate(1261.04 511.50) scale(22.300)" d="M0.39 0L0.253 0L0.253 -0.48C0.2 -0.44 0.14 -0.418 0.071 -0.405L0.071 -0.52C0.15 -0.545 0.22 -0.6 0.27 -0.688L0.39 -0.688Z"/>
<rect x="1250.38" y="520.93" width="12.04" height="16.61" fill="#fff"/>
<path transform="translate(1249.93 537.10) scale(22.300)" d="M0.39 0L0.253 0L0.253 -0.48C0.2 -0.44 0.14 -0.418 0.071 -0.405L0.071 -0.52C0.15 -0.545 0.22 -0.6 0.27 -0.688L0.39 -0.688Z"/>
<rect x="1261.98" y="548.23" width="12.04" height="16.61" fill="#fff"/>
<path transform="translate(1261.54 564.40) scale(22.300)" d="M0.39 0L0.253 0L0.253 -0.48C0.2 -0.44 0.14 -0.418 0.071 -0.405L0.071 -0.52C0.15 -0.545 0.22 -0.6 0.27 -0.688L0.39 -0.688Z"/>
</svg></body></html>
